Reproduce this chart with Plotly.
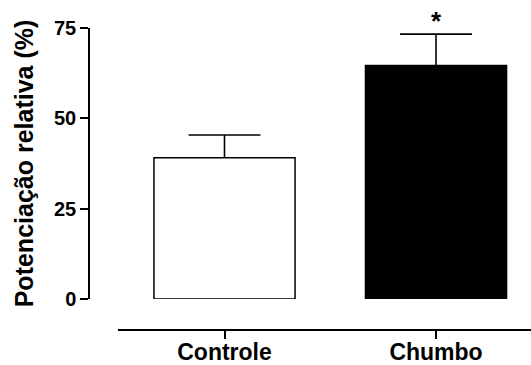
import plotly.graph_objects as go

# Group means and SEM for relative potentiation
groups = ["Controle", "Chumbo"]
means = [39.1, 64.6]
sem = [6.3, 8.7]
fill_colors = ["white", "black"]
y_ticks = [0, 25, 50, 75]
signif_marks = ["", "*"]

FONT = "Liberation Sans, Arial, sans-serif"
BAR_WIDTH = 0.667
CAP_HALF = 0.17  # half-width of the error-bar cap, in x units

positions = list(range(len(groups)))

fig = go.Figure()
fig.add_trace(go.Bar(
    x=positions,
    y=means,
    width=BAR_WIDTH,
    marker=dict(color=fill_colors, line=dict(color="black", width=1.5)),
    showlegend=False,
    hoverinfo="skip",
))

# Upward-only SEM whiskers with a cap at the top
for xi, m, s in zip(positions, means, sem):
    fig.add_trace(go.Scatter(
        x=[xi, xi, None, xi - CAP_HALF, xi + CAP_HALF],
        y=[m, m + s, None, m + s, m + s],
        mode="lines",
        line=dict(color="black", width=1.6),
        showlegend=False,
        hoverinfo="skip",
    ))

# Significance markers above the whiskers
for xi, m, s, mark in zip(positions, means, sem, signif_marks):
    if mark:
        fig.add_annotation(
            x=xi, y=m + s, xref="x", yref="y",
            text=mark, showarrow=False,
            yanchor="bottom", yshift=-4,
            font=dict(family=FONT, size=26, color="black", weight="bold"),
        )

fig.update_layout(
    width=531,
    height=365,
    margin=dict(l=89, r=0, t=28, b=35, autoexpand=False),
    paper_bgcolor="white",
    plot_bgcolor="white",
    font=dict(family=FONT, color="black"),
    xaxis=dict(
        domain=[29 / 442, 1],
        anchor="free",
        position=0,
        automargin=False,
        range=[-0.5035, 1.449],
        tickvals=positions,
        ticktext=groups,
        showline=True,
        linecolor="black",
        linewidth=1.5,
        ticks="outside",
        ticklen=8,
        tickwidth=1.5,
        tickcolor="black",
        ticklabelstandoff=-6,
        showgrid=False,
        zeroline=False,
        tickfont=dict(family=FONT, size=23, color="black", weight="bold"),
    ),
    yaxis=dict(
        domain=[31 / 302, 1],
        anchor="free",
        position=0,
        automargin=False,
        range=[0, 75],
        tickvals=y_ticks,
        showline=True,
        linecolor="black",
        linewidth=1.5,
        ticks="outside",
        ticklen=8,
        tickwidth=1.5,
        tickcolor="black",
        showgrid=False,
        zeroline=False,
        tickfont=dict(family=FONT, size=20, color="black", weight="bold"),
        title=dict(
            text="Potenciação relativa (%)",
            font=dict(family=FONT, size=25, color="black", weight="bold"),
            standoff=12,
        ),
    ),
)

fig.write_html("out.html")
